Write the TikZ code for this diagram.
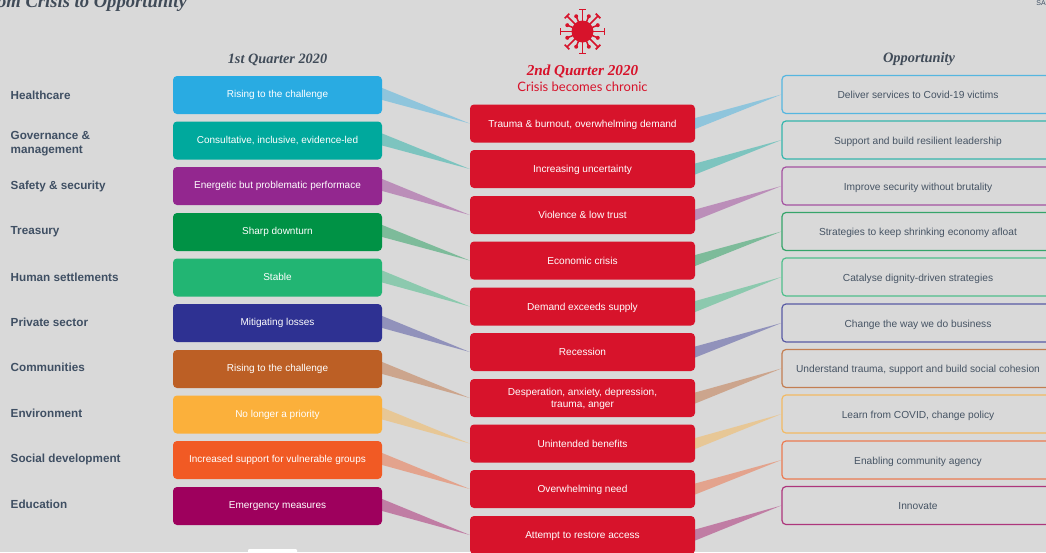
\documentclass[tikz,border=0pt]{standalone}
\usepackage{fontspec}
\setmainfont{Liberation Sans}
\newfontfamily\serifhead{Liberation Serif}
\newfontfamily\subhead{Lato}
\usetikzlibrary{calc}
\definecolor{bgc}{HTML}{D9D9D9}
\definecolor{cA}{HTML}{29ABE2}
\definecolor{cB}{HTML}{00A99D}
\definecolor{cC}{HTML}{93278F}
\definecolor{cD}{HTML}{009245}
\definecolor{cE}{HTML}{22B573}
\definecolor{cF}{HTML}{2E3192}
\definecolor{cG}{HTML}{BC5F25}
\definecolor{cH}{HTML}{FBB03B}
\definecolor{cI}{HTML}{F15A24}
\definecolor{cJ}{HTML}{9E005D}
\definecolor{crisis}{HTML}{D7132B}
\definecolor{inkc}{HTML}{3F4F63}
\definecolor{headc}{HTML}{404B58}
\definecolor{softink}{HTML}{465464}
\newcommand\dropped[2]{\raisebox{-#1pt}[0pt][0pt]{\begin{tabular}{@{}c@{}}#2\end{tabular}}}
\tikzset{
 x=1pt,y=-1pt,
 sector/.style={anchor=west,inner sep=0pt,text=inkc,align=left,font=\fontsize{11.7}{14}\selectfont\bfseries},
 qbox/.style={fill=#1,rounded corners=4pt,minimum width=209pt,minimum height=38pt,inner sep=0pt,text=white,align=center,font=\fontsize{10}{12}\selectfont},
 cbox/.style={qbox=crisis,minimum width=225pt,font=\fontsize{10.1}{12}\selectfont},
 obox/.style={draw=#1!75!bgc,line width=1.2pt,rounded corners=4pt,minimum width=272pt,minimum height=38pt,inner sep=0pt,text=softink,align=center,font=\fontsize{10.2}{12}\selectfont},
 wedge/.style={fill=#1,fill opacity=.42},
 head/.style={inner sep=0pt,font=\fontsize{14}{16}\selectfont\serifhead\bfseries\itshape},
}
\begin{document}
\begin{tikzpicture}
\clip (0,0) rectangle (1046,552);
\fill[bgc] (0,0) rectangle (1046,552);
% headings
\node[head,anchor=base east,text=headc,font=\fontsize{18.6}{20}\selectfont\serifhead\bfseries\itshape] (title) at (187,7) {om Crisis to Opportunity};
\node[anchor=base east,inner sep=0pt,text=inkc,font=\fontsize{7}{8}\selectfont] (corner) at (1046,5) {SA};
\node[head,text=headc,font=\fontsize{14.3}{16}\selectfont\serifhead\bfseries\itshape] (q1) at (277.5,59.5) {1st Quarter 2020};
\node[head,text=headc,font=\fontsize{14.4}{16}\selectfont\serifhead\bfseries\itshape] (opp) at (919,59.5) {Opportunity};
\node[head,text=crisis,font=\fontsize{15.2}{17}\selectfont\serifhead\bfseries\itshape] (q2) at (582.5,71) {2nd Quarter 2020};
\node[inner sep=0pt,text=crisis,font=\fontsize{13}{15}\selectfont\subhead] (q2s) at (582.5,86.5) {Crisis becomes chronic};
% virus
\fill[crisis] (582.5,31.5) circle (11);
\foreach \a in {0,45,...,315}{
 \draw[crisis,line width=1.6pt] (582.5,31.5) -- ++(\a:22);
 \draw[crisis,line width=1.6pt] ($(582.5,31.5)+(\a:22)+(\a+90:3.2)$) -- ($(582.5,31.5)+(\a:22)+(\a-90:3.2)$);
}
\foreach \a in {22.5,67.5,...,337.5}{
 \draw[crisis,line width=1.5pt] (582.5,31.5) -- ++(\a:16);
 \fill[crisis] ($(582.5,31.5)+(\a:16.5)$) circle (2);
}
% sector labels
\node[sector] (s1) at (10.5,95) {Healthcare};
\node[sector] (s2) at (10.5,143.5) {Governance \&\\management};
\node[sector] (s3) at (10.5,186) {Safety \& security};
\node[sector] (s4) at (10.5,231.5) {Treasury};
\node[sector] (s5) at (10.5,277) {Human settlements};
\node[sector] (s6) at (10.5,322.5) {Private sector};
\node[sector] (s7) at (10.5,367.5) {Communities};
\node[sector] (s8) at (10.5,413.5) {Environment};
\node[sector] (s9) at (10.5,459) {Social development};
\node[sector] (s10) at (10.5,504) {Education};
% first quarter
\foreach \i/\y/\c/\t in {
 1/95/cA/{Rising to the challenge},
 2/140.5/cB/{Consultative, inclusive, evidence-led},
 3/186/cC/{Energetic but problematic performace},
 4/232/cD/{Sharp downturn},
 5/277.5/cE/{Stable},
 6/323/cF/{Mitigating losses},
 7/369/cG/{Rising to the challenge},
 8/414.5/cH/{No longer a priority},
 9/460/cI/{Increased support for vulnerable groups},
 10/506/cJ/{Emergency measures}}{
 \node[qbox=\c] (l\i) at (277.5,\y) {\dropped{3}{\t}};
}
% second quarter
\foreach \i/\y/\t in {
 1/123.5/{Trauma \& burnout, overwhelming demand},
 2/169/{Increasing uncertainty},
 3/215/{Violence \& low trust},
 4/260.5/{Economic crisis},
 5/306.5/{Demand exceeds supply},
 6/352/{Recession},
 7/398/{Desperation, anxiety, depression,\\trauma, anger},
 8/443.5/{Unintended benefits},
 9/489/{Overwhelming need},
 10/535/{Attempt to restore access}}{
 \node[cbox] (m\i) at (582.5,\y) {\dropped{3.6}{\t}};
}
% opportunity
\foreach \i/\y/\c/\t in {
 1/94.5/cA/{Deliver services to Covid-19 victims},
 2/140/cB/{Support and build resilient leadership},
 3/186/cC/{Improve security without brutality},
 4/231.5/cD/{Strategies to keep shrinking economy afloat},
 5/277/cE/{Catalyse dignity-driven strategies},
 6/323/cF/{Change the way we do business},
 7/368.5/cG/{Understand trauma, support and build social cohesion},
 8/414/cH/{Learn from COVID, change policy},
 9/460/cI/{Enabling community agency},
 10/505.5/cJ/{Innovate}}{
 \node[obox=\c] (r\i) at (918,\y) {\dropped{4.5}{\t}};
}
% tapered connectors
\foreach \i/\c in {1/cA,2/cB,3/cC,4/cD,5/cE,6/cF,7/cG,8/cH,9/cI,10/cJ}{
 \fill[wedge=\c] ($(l\i.east)+(0,-7)$) -- ($(l\i.east)+(0,5)$) -- (m\i.west) -- cycle;
 \fill[wedge=\c] ($(m\i.east)+(0,-5.5)$) -- ($(m\i.east)+(0,5.5)$) -- (r\i.west) -- cycle;
}
% white remnant at the bottom
\fill[white,rounded corners=1pt] (248,549) rectangle (297,556);
\end{tikzpicture}
\end{document}
